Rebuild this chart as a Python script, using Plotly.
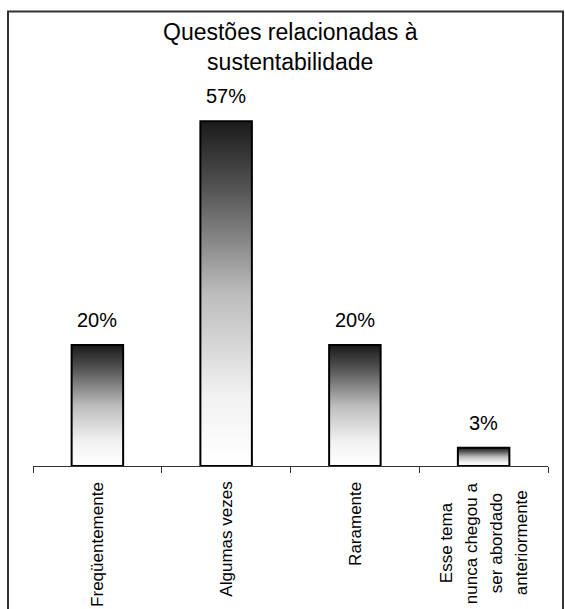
import plotly.graph_objects as go

categories = ["Freqüentemente", "Algumas vezes", "Raramente",
              "Esse tema<br>nunca chegou a<br>ser abordado<br>anteriormente"]
values = [20, 57, 20, 3]
value_labels = ["20%", "57%", "20%", "3%"]
title_text = "Questões relacionadas à<br>sustentabilidade"

BAR_W = 0.4
FONT = "Liberation Sans, Arial, sans-serif"
LINE_GAP = 25
grad = [[0, "#ffffff"], [0.2, "#f2f2f2"], [0.5, "#bcbcbc"], [0.8, "#555555"], [1, "#1a1a1a"]]

fig = go.Figure()
for i, v in enumerate(values):
    x0, x1 = i - BAR_W / 2, i + BAR_W / 2
    fig.add_trace(go.Scatter(
        x=[x0, x0, x1, x1, x0], y=[0, v, v, 0, 0],
        mode="lines", fill="toself",
        fillgradient=dict(type="vertical", colorscale=grad),
        line=dict(color="black", width=2),
        hoverinfo="skip", showlegend=False,
    ))

annotations = [dict(x=0.5, y=(466 - 47.5) / 363, xref="paper", yref="paper",
                    text=title_text, showarrow=False, xanchor="center", yanchor="middle",
                    font=dict(family=FONT, size=23, color="black"))]
for i, (v, t) in enumerate(zip(values, value_labels)):
    annotations.append(dict(x=i, y=v, xref="x", yref="y", text=t, showarrow=False,
                            yanchor="bottom", yshift=12,
                            font=dict(family=FONT, size=20, color="black")))
for i, c in enumerate(categories):
    lines = c.split("<br>")
    if len(lines) == 1:
        annotations.append(dict(x=i, y=0, xref="x", yref="paper", text=c, showarrow=False,
                                textangle=-90, yanchor="top", yshift=-14,
                                font=dict(family=FONT, size=17, color="black")))
    else:
        n = len(lines)
        for k, ln in enumerate(lines):
            annotations.append(dict(x=i, y=0, xref="x", yref="paper", text=ln, showarrow=False,
                                    textangle=-90, yanchor="middle", yshift=-77,
                                    xshift=(k - (n - 1) / 2) * LINE_GAP,
                                    font=dict(family=FONT, size=17, color="black")))

fig.update_layout(
    width=565, height=609,
    margin=dict(l=33, r=17, t=103, b=143),
    paper_bgcolor="white", plot_bgcolor="white",
    xaxis=dict(range=[-0.5, len(values) - 0.5], tickmode="array",
               tickvals=[i - 0.5 for i in range(len(values) + 1)],
               ticktext=[""] * (len(values) + 1),
               ticks="outside", ticklen=6, tickcolor="#333", tickwidth=1,
               showline=True, linecolor="#333", linewidth=1,
               showgrid=False, zeroline=False, fixedrange=True),
    yaxis=dict(range=[0, 60], visible=False, showgrid=False, zeroline=False),
    annotations=annotations,
    shapes=[dict(type="rect", xref="paper", yref="paper",
                 x0=(8 - 33) / 515, x1=(563 - 33) / 515,
                 y0=(466 - 620) / 363, y1=(466 - 11.5) / 363,
                 line=dict(color="#333", width=2), fillcolor="rgba(0,0,0,0)", layer="below")],
)

fig.write_html("out.html")
